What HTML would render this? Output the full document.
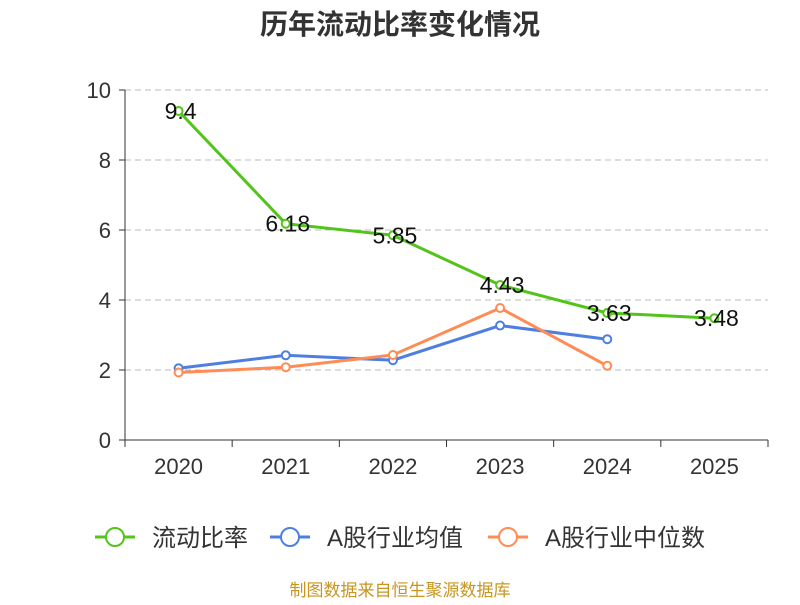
<!DOCTYPE html>
<html><head><meta charset="utf-8"><style>
body{margin:0;background:#fff;font-family:"Liberation Sans","Noto Sans CJK SC",sans-serif}
</style></head><body>
<svg id="c" width="800" height="600" xmlns="http://www.w3.org/2000/svg" font-family="Liberation Sans, Noto Sans CJK SC, sans-serif">
<text x="400" y="34" text-anchor="middle" font-size="28" font-weight="bold" fill="#333">历年流动比率变化情况</text>
<g id="grid"></g><g id="axes"></g><g id="series"></g>
<g id="legend"></g>
<text x="400" y="596" text-anchor="middle" font-size="17" fill="#c8961e">制图数据来自恒生聚源数据库</text>
</svg>
<script>
const categories=["2020","2021","2022","2023","2024","2025"];
const yTicks=[0,2,4,6,8,10];
const seriesNames=["流动比率","A股行业均值","A股行业中位数"];
const seriesColors=["#52c41a","#4e7fe0","#ff8c55"];
const ratioValues=[9.4,6.18,5.85,4.43,3.63,3.48];
const avgValues=[2.05,2.42,2.28,3.27,2.88];
const medianValues=[1.93,2.08,2.43,3.77,2.12];
const ratioLabels=["9.4","6.18","5.85","4.43","3.63","3.48"];
const NS="http://www.w3.org/2000/svg";
const x0=125,x1=768,y0=440,yTop=90;
const bw=(x1-x0)/categories.length;
const xs=i=>x0+bw*(i+0.5);
const ys=v=>y0-(v/10)*(y0-yTop);
function mk(p,tag,at){const e=document.createElementNS(NS,tag);for(const k in at)e.setAttribute(k,at[k]);document.getElementById(p)?document.getElementById(p).appendChild(e):p.appendChild(e);return e;}
yTicks.forEach(t=>{
 if(t>0){const g=mk("grid","line",{x1:x0,x2:x1,y1:ys(t),y2:ys(t),stroke:"#bbb","stroke-dasharray":"6,4"});
 
 }
 const tl=mk("axes","line",{x1:x0-6,x2:x0,y1:ys(t),y2:ys(t),stroke:"#333"});
 
 
 const tx=mk("axes","text",{x:x0-14,y:ys(t)+8,"text-anchor":"end","font-size":"22",fill:"#333"});tx.textContent=t;
 
 
});
const ya=mk("axes","line",{x1:x0,x2:x0,y1:yTop,y2:y0,stroke:"#333"});


const xa=mk("axes","line",{x1:x0,x2:x1,y1:y0,y2:y0,stroke:"#333"});


for(let i=0;i<=categories.length;i++){const t=mk("axes","line",{x1:x0+bw*i,x2:x0+bw*i,y1:y0,y2:y0+7,stroke:"#333"});
 
 }
categories.forEach((c,i)=>{const t=mk("axes","text",{x:xs(i),y:474,"text-anchor":"middle","font-size":"22",fill:"#333"});t.textContent=c;
 
 });
[ratioValues,avgValues,medianValues].forEach((vals,s)=>{
 const pts=vals.map((v,i)=>xs(i)+","+ys(v)).join(" ");
 const l=mk("series","polyline",{points:pts,fill:"none",stroke:seriesColors[s],"stroke-width":"3"});
 
 
 vals.forEach((v,i)=>{const c=mk("series","circle",{cx:xs(i),cy:ys(v),r:4,fill:"#fff",stroke:seriesColors[s],"stroke-width":"2"});
  
  });
});
ratioValues.forEach((v,i)=>{const t=mk("series","text",{x:xs(i)+2,y:ys(v)+8,"text-anchor":"middle","font-size":"23",fill:"#111"});t.textContent=ratioLabels[i];
 
 });
const lx=[95,270,488];
seriesNames.forEach((n,s)=>{
 const g=mk("legend","g",{});
 
 
 mk(g,"line",{x1:lx[s],x2:lx[s]+40,y1:537,y2:537,stroke:seriesColors[s],"stroke-width":"3"});
 mk(g,"circle",{cx:lx[s]+20,cy:537,r:9,fill:"#fff",stroke:seriesColors[s],"stroke-width":"2"});
 const t=mk(g,"text",{x:lx[s]+57,y:546,"font-size":"24",fill:"#333"});t.textContent=n;
});
</script>
</body></html>
